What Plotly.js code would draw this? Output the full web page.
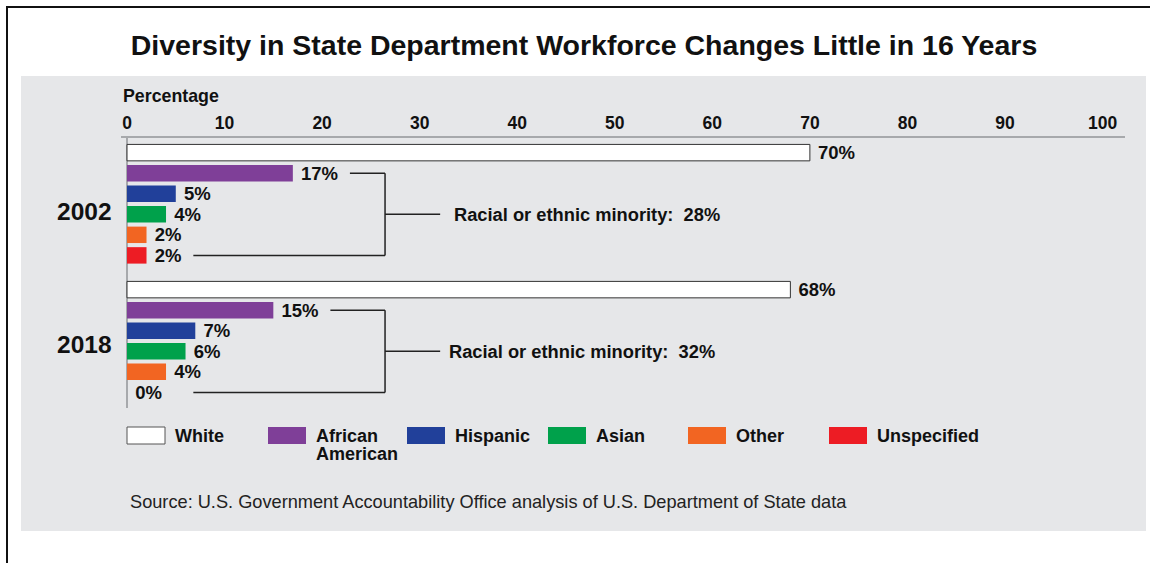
<!DOCTYPE html>
<html>
<head>
<meta charset="utf-8">
<script src="https://cdn.plot.ly/plotly-3.0.1.min.js"></script>
<style>html,body{margin:0;padding:0;background:#fff;}#chart{width:1150px;height:563px;}</style>
</head>
<body>
<div id="chart"></div>
<script>
// ---- data ----
const years = ['2002', '2018'];
const groups = ['White', 'African American', 'Hispanic', 'Asian', 'Other', 'Unspecified'];
const legendLines = [['White'], ['African', 'American'], ['Hispanic'], ['Asian'], ['Other'], ['Unspecified']];
const values2002 = [70, 17, 5, 4, 2, 2];
const values2018 = [68, 15, 7, 6, 4, 0];
const minorityTotals = [28, 32];
const xTicks = [0, 10, 20, 30, 40, 50, 60, 70, 80, 90, 100];
const colors = ['#ffffff', '#7f3f98', '#21409a', '#00a14b', '#f26522', '#ed1c24'];

// ---- geometry helpers (decoration only) ----
const PL = 121, PR = 1125, PT = 138, PB = 408;
const fx = p => (p - PL) / (PR - PL);
const fy = p => (PB - p) / (PB - PT);
const FONT = 'Liberation Sans, Arial, sans-serif';

const bargap = 0.1;
const slot = (1 - bargap) / groups.length;
const barOffset = i => -(1 - bargap) / 2 + slot * (i + 0.5);

const traces = groups.map((g, i) => {
  const xs = [values2002[i], values2018[i]];
  return {
    type: 'bar', orientation: 'h', name: g,
    y: years, x: xs,
    text: xs.map(v => ' ' + v + '%'),
    textposition: 'outside', cliponaxis: false, constraintext: 'none',
    textfont: {family: FONT, size: 18.5, color: '#111', weight: 'bold'},
    marker: {color: colors[i], line: {color: i === 0 ? '#333' : colors[i], width: i === 0 ? 1 : 0}},
    hoverinfo: 'skip', showlegend: false
  };
});

const shapes = [];
const annotations = [];
// gray panel + frame
shapes.push({type: 'rect', xref: 'paper', yref: 'paper', x0: fx(21), x1: fx(1146), y0: fy(76), y1: fy(531), fillcolor: '#e6e7e9', line: {width: 0}, layer: 'below'});
shapes.push({type: 'line', xref: 'paper', yref: 'paper', x0: fx(6), x1: fx(1150), y0: fy(7), y1: fy(7), line: {color: '#111', width: 2}});
shapes.push({type: 'line', xref: 'paper', yref: 'paper', x0: fx(7), x1: fx(7), y0: fy(6), y1: fy(563), line: {color: '#111', width: 2}});

// brackets
const bracketX = 26.45, stubX = 32.1, lowX = 6.8;
years.forEach((yr, k) => {
  const vals = k === 0 ? values2002 : values2018;
  const yTop = k + barOffset(1), yBot = k + barOffset(5), yMid = k + 0.075;
  const ln = {color: '#222', width: 1.5};
  shapes.push({type: 'line', xref: 'x', yref: 'y', x0: vals[1] + 5.85, x1: bracketX, y0: yTop, y1: yTop, line: ln});
  shapes.push({type: 'line', xref: 'x', yref: 'y', x0: bracketX, x1: bracketX, y0: yTop, y1: yBot, line: ln});
  shapes.push({type: 'line', xref: 'x', yref: 'y', x0: lowX, x1: bracketX, y0: yBot, y1: yBot, line: ln});
  shapes.push({type: 'line', xref: 'x', yref: 'y', x0: bracketX, x1: stubX, y0: yMid, y1: yMid, line: ln});
  annotations.push({xref: 'x', yref: 'y', x: stubX, y: yMid, xanchor: 'left', yanchor: 'middle', xshift: k === 0 ? 12 : 7,
    text: 'Racial or ethnic minority:  ' + minorityTotals[k] + '%', showarrow: false,
    font: {family: FONT, size: 18.3, color: '#111', weight: 'bold'}});
  annotations.push({xref: 'paper', yref: 'y', x: fx(114), y: k, xanchor: 'right', yanchor: 'middle', yshift: k === 0 ? -7 : -3,
    text: yr, showarrow: false, font: {family: FONT, size: 24.5, color: '#111', weight: 'bold'}});
});

// manual legend
const legX = [127, 268, 407, 548, 688, 829];
groups.forEach((g, i) => {
  shapes.push({type: 'rect', xref: 'paper', yref: 'paper', x0: fx(legX[i]), x1: fx(legX[i] + 38), y0: fy(427), y1: fy(444),
    fillcolor: colors[i], line: {color: i === 0 ? '#555' : colors[i], width: i === 0 ? 1 : 0}});
  legendLines[i].forEach((t, j) => {
    annotations.push({xref: 'paper', yref: 'paper', x: fx(legX[i] + 46), y: fy(436 + j * 18), xanchor: 'left', yanchor: 'middle',
      text: t, showarrow: false, font: {family: FONT, size: 18, color: '#111', weight: 'bold'}});
  });
});

annotations.push({xref: 'paper', yref: 'paper', x: fx(121), y: fy(96), xanchor: 'left', yanchor: 'middle',
  text: 'Percentage', showarrow: false, font: {family: FONT, size: 17.8, color: '#111', weight: 'bold'}});
annotations.push({xref: 'paper', yref: 'paper', x: fx(128), y: fy(502), xanchor: 'left', yanchor: 'middle',
  text: 'Source: U.S. Government Accountability Office analysis of U.S. Department of State data', showarrow: false,
  font: {family: FONT, size: 18.2, color: '#222'}});

const layout = {
  width: 1150, height: 563,
  margin: {l: PL, r: 1150 - PR, t: PT, b: 563 - PB, pad: 0},
  paper_bgcolor: '#ffffff', plot_bgcolor: 'rgba(0,0,0,0)',
  title: {text: 'Diversity in State Department Workforce Changes Little in 16 Years', x: 584 / 1150, xanchor: 'center',
    y: 1 - 45 / 563, yanchor: 'middle', yref: 'container', font: {family: FONT, size: 28.5, color: '#111', weight: 'bold'}},
  barmode: 'group', bargap: bargap, bargroupgap: 0.2,
  xaxis: {range: [-0.615, 102.3], side: 'top', tickvals: xTicks, ticktext: xTicks.map(String), ticks: '',
    showgrid: false, showline: true, linecolor: '#a7a9ac', linewidth: 2, zeroline: true, zerolinecolor: '#a7a9ac', zerolinewidth: 2,
    tickfont: {family: FONT, size: 17.5, color: '#111', weight: 'bold'}, fixedrange: true},
  yaxis: {type: 'category', categoryorder: 'array', categoryarray: years, range: [1 + 67 / 137, -66 / 137],
    showticklabels: false, showgrid: false, zeroline: false, showline: false, ticks: '', fixedrange: true},
  shapes: shapes, annotations: annotations, showlegend: false
};

Plotly.newPlot('chart', traces, layout, {displayModeBar: false, staticPlot: true});
</script>
</body>
</html>
